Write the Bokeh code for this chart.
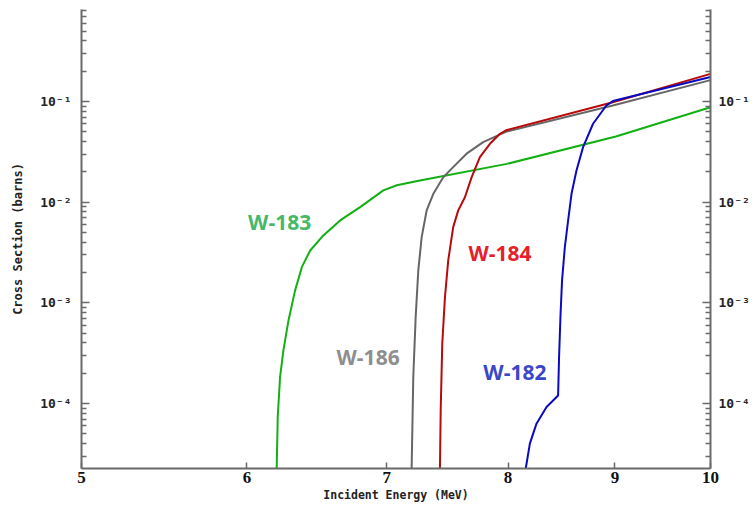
from bokeh.plotting import figure
from bokeh.models import (Range1d, LogAxis, FixedTicker, CustomJSTickFormatter,
                          ColumnDataSource)
from bokeh.core.properties import value
from bokeh.embed import file_html
from bokeh.resources import INLINE

# ---- data (Incident energy in MeV, cross section in barns) ----
w183_e = [6.195, 6.20, 6.207, 6.223, 6.246, 6.281, 6.327, 6.374, 6.433, 6.527,
          6.649, 6.797, 6.973, 7.077, 7.26, 7.99, 9.01, 10.0]
w183_s = [1.5e-5, 2.3e-5, 7.3e-5, 1.83e-4, 3.37e-4, 6.68e-4, 1.33e-3, 2.26e-3,
          3.31e-3, 4.67e-3, 6.58e-3, 8.92e-3, 1.31e-2, 1.47e-2, 1.64e-2,
          2.40e-2, 4.49e-2, 8.78e-2]

w186_e = [7.19, 7.194, 7.207, 7.226, 7.247, 7.274, 7.314, 7.368, 7.449, 7.531,
          7.643, 7.784, 7.99, 8.98, 10.0]
w186_s = [1.5e-5, 2.3e-5, 1.83e-4, 7.21e-4, 2.10e-3, 4.49e-3, 8.27e-3, 1.21e-2,
          1.77e-2, 2.23e-2, 3.03e-2, 3.95e-2, 5.04e-2, 9.13e-2, 0.163]

w184_e = [7.42, 7.422, 7.428, 7.441, 7.463, 7.490, 7.531, 7.573, 7.629, 7.686,
          7.756, 7.842, 7.929, 7.99, 8.98, 10.0]
w184_s = [1.5e-5, 2.3e-5, 8.55e-5, 3.93e-4, 1.14e-3, 2.64e-3, 5.65e-3, 8.28e-3,
          1.12e-2, 1.77e-2, 2.80e-2, 3.80e-2, 4.78e-2, 5.21e-2, 9.84e-2, 0.188]

w182_e = [8.15, 8.159, 8.195, 8.255, 8.347, 8.454, 8.463, 8.477, 8.491, 8.517,
          8.548, 8.580, 8.627, 8.690, 8.786, 8.916, 8.98, 10.0]
w182_s = [1.5e-5, 2.3e-5, 3.99e-5, 6.30e-5, 9.21e-5, 1.20e-4, 2.89e-4, 7.80e-4,
          1.67e-3, 3.57e-3, 6.58e-3, 1.21e-2, 2.06e-2, 3.52e-2, 6.01e-2,
          9.13e-2, 0.101, 0.175]

x_ticks = [5, 6, 7, 8, 9, 10]
y_ticks = [1e-4, 1e-3, 1e-2, 1e-1]

labels = ["W-183", "W-184", "W-186", "W-182"]
label_x = [6.22, 7.93, 6.857, 8.061]
label_y = [6.29e-3, 3.1e-3, 2.87e-4, 2.04e-4]
label_colors = ["#45b86a", "#e5202a", "#8e8e8e", "#3a48c8"]

# ---- figure ----
p = figure(width=752, height=508, x_axis_type="log", y_axis_type="log",
           x_range=Range1d(5, 10), y_range=Range1d(2.26e-5, 0.82),
           output_backend="svg", toolbar_location=None,
           min_border_left=81, min_border_right=41, min_border_top=9,
           min_border_bottom=40)
p.outline_line_color = None
p.xgrid.visible = False
p.ygrid.visible = False
p.background_fill_color = "white"
p.border_fill_color = "white"

minor_y = [m * 10.0 ** d for d in range(-5, 0) for m in range(2, 10)]

fmt = CustomJSTickFormatter(code="""
const e = Math.round(Math.log10(tick));
const sup = {'-':'\u207b','0':'\u2070','1':'\u00b9','2':'\u00b2','3':'\u00b3',
             '4':'\u2074','5':'\u2075','6':'\u2076','7':'\u2077','8':'\u2078','9':'\u2079'};
return '10' + String(e).split('').map(c => sup[c]).join('');
""")

axis_color = "#6a6a6a"

def style_y(ax, standoff):
    ax.ticker = FixedTicker(ticks=y_ticks, minor_ticks=minor_y)
    ax.formatter = fmt
    ax.axis_line_color = axis_color
    ax.axis_line_width = 2
    ax.major_tick_line_color = axis_color
    ax.minor_tick_line_color = axis_color
    ax.major_tick_in = 8
    ax.major_tick_out = 0
    ax.minor_tick_in = 5
    ax.minor_tick_out = 0
    ax.major_tick_line_width = 1.5
    ax.minor_tick_line_width = 1.5
    ax.major_label_text_font = "DejaVu Sans Mono"
    ax.major_label_text_font_style = "bold"
    ax.major_label_text_font_size = "13px"
    ax.major_label_text_color = "#222222"
    ax.major_label_standoff = standoff

yl = p.yaxis[0]
style_y(yl, 10)
yl.axis_label = "Cross Section (barns)"
yl.axis_label_text_font = "DejaVu Sans Mono"
yl.axis_label_text_font_style = "bold"
yl.axis_label_text_font_size = "12px"
yl.axis_label_text_color = "#222222"
yl.axis_label_standoff = 12

yr = LogAxis()
style_y(yr, 8)
p.add_layout(yr, "right")

xa = p.xaxis[0]
xa.ticker = FixedTicker(ticks=x_ticks, minor_ticks=[])
xa.axis_line_color = axis_color
xa.axis_line_width = 2
xa.major_tick_line_color = axis_color
xa.major_tick_in = 6
xa.major_tick_out = 0
xa.minor_tick_in = 0
xa.minor_tick_out = 0
xa.major_tick_line_width = 1.5
xa.major_label_text_font = "Liberation Serif"
xa.major_label_text_font_style = "bold"
xa.major_label_text_font_size = "17px"
xa.major_label_text_color = "#111111"
xa.major_label_standoff = 3
xa.axis_label = "Incident Energy (MeV)"
xa.axis_label_text_font = "DejaVu Sans Mono"
xa.axis_label_text_font_style = "bold"
xa.axis_label_text_font_size = "11.5px"
xa.axis_label_text_color = "#222222"
xa.axis_label_standoff = 2
xa.formatter = CustomJSTickFormatter(code="return String(Math.round(tick));")

# ---- curves ----
p.line(w183_e, w183_s, line_color="#12b012", line_width=2)
p.line(w186_e, w186_s, line_color="#666666", line_width=2)
p.line(w184_e, w184_s, line_color="#b80a0a", line_width=2)
p.line(w182_e, w182_s, line_color="#0a0ac0", line_width=2)

src = ColumnDataSource(dict(x=label_x, y=label_y, t=labels, c=label_colors))
p.text(x="x", y="y", text="t", text_color="c", source=src,
       text_font=value("Open Sans"), text_font_style="bold",
       text_font_size="21px", text_align="center", text_baseline="middle")

open("out.html", "w").write(file_html(p, INLINE))
